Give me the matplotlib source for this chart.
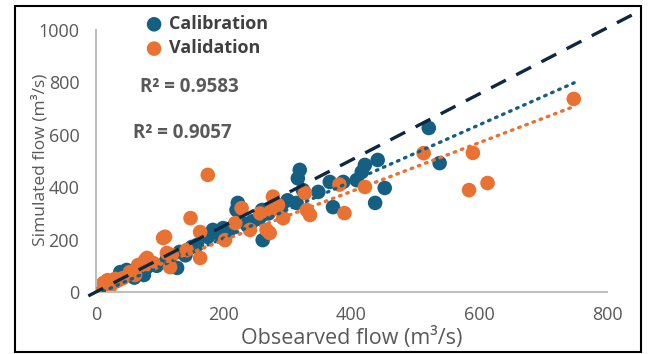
import numpy as np
import matplotlib
matplotlib.use("Agg")
import matplotlib.pyplot as plt
from matplotlib.patches import Rectangle

plt.rcParams['font.family'] = ['Open Sans', 'DejaVu Sans']

calib_obs = [5, 8, 12, 15, 20, 25, 30, 38, 42, 48, 55, 60, 69, 75, 80, 95, 110, 127,
             131, 140, 150, 158, 175, 183, 190, 199, 210, 220, 222, 235, 245, 255, 260,
             261, 270, 290, 300, 314, 316, 319, 324, 348, 366, 371, 387, 408, 416, 421,
             437, 441, 452, 521, 538]
calib_sim = [10, 20, 15, 25, 30, 35, 40, 76, 60, 84, 70, 55, 76, 65, 95, 100, 120, 92,
             153, 140, 172, 179, 210, 237, 225, 244, 240, 313, 340, 260, 270, 280, 313,
             198, 300, 330, 350, 340, 434, 466, 389, 382, 420, 324, 420, 427, 458, 485,
             340, 504, 397, 626, 492]

valid_obs = [5, 8, 10, 12, 15, 18, 22, 27, 30, 35, 42, 53, 61, 66, 77, 77, 80, 90,
             105, 108, 111, 116, 119, 142, 148, 163, 163, 175, 202, 218, 228, 241, 257,
             267, 272, 275, 277, 285, 293, 327, 330, 335, 381, 389, 421, 513, 584, 590,
             613, 748]
valid_sim = [8, 25, 15, 35, 30, 45, 20, 40, 50, 45, 53, 76, 65, 103, 103, 122, 130, 110,
             206, 211, 149, 95, 141, 160, 282, 130, 229, 447, 198, 263, 320, 237, 300,
             237, 225, 313, 364, 332, 282, 378, 313, 294, 410, 301, 401, 530, 389, 531,
             416, 737]

# linear trendlines (slope, intercept) and their r-squared labels
calib_fit = (1.08, -10)
valid_fit = (0.93, 12)
fit_x = [0, 750]
calib_r2 = 0.9583
valid_r2 = 0.9057

# dashed reference line
ref_x = [-12, 850]
ref_y = [-15, 1071]

BLUE = '#156082'
ORANGE = '#E97132'
NAVY = '#0E2841'
GRAY = '#595959'

fig = plt.figure(figsize=(6.48, 3.54), dpi=100)
ax = fig.add_axes([96 / 648, 1 - 292 / 354, 511 / 648, 262 / 354])

ax.scatter(calib_obs, calib_sim, s=110, color=BLUE, zorder=2, label='Calibration',
           edgecolors='none')
ax.scatter(valid_obs, valid_sim, s=110, color=ORANGE, zorder=2.1, label='Validation',
           edgecolors='none')

fx = np.array(fit_x)
ax.plot(fx, calib_fit[0] * fx + calib_fit[1], color=BLUE, lw=2.4,
        linestyle=(0, (0.5, 1.8)), dash_capstyle='round', zorder=3)
ax.plot(fx, valid_fit[0] * fx + valid_fit[1], color=ORANGE, lw=2.4,
        linestyle=(0, (0.5, 1.8)), dash_capstyle='round', zorder=3)
ax.plot(ref_x, ref_y, color=NAVY, lw=2.4, linestyle=(0, (5, 3.5)), zorder=4,
        clip_on=False)

ax.set_xlim(0, 800)
ax.set_ylim(0, 1000)
ax.set_xticks([0, 200, 400, 600, 800])
ax.set_yticks([0, 200, 400, 600, 800, 1000])
ax.tick_params(length=0, labelsize=13, labelcolor=GRAY)
ax.tick_params(axis='y', pad=12)
ax.tick_params(axis='x', pad=10)
for s in ['top', 'right']:
    ax.spines[s].set_visible(False)
for s in ['left', 'bottom']:
    ax.spines[s].set_color('#BFBFBF')
    ax.spines[s].set_linewidth(1.5)

fig.text(352 / 648, 1 - 338 / 354, 'Obsearved flow (m³/s)', fontsize=15.5, color=GRAY,
         ha='center', va='center')
fig.text(40 / 648, 1 - 160 / 354, 'Simulated flow (m³/s)', rotation=90, fontsize=12.5,
         color=GRAY, ha='center', va='center')

fig.text(140 / 648, 1 - 87 / 354, f'R² = {calib_r2}', fontsize=13.5, fontweight='bold',
         color=GRAY, va='center')
fig.text(133 / 648, 1 - 133 / 354, f'R² = {valid_r2}', fontsize=13.5, fontweight='bold',
         color=GRAY, va='center')

leg = fig.legend(loc='upper left', bbox_to_anchor=(127 / 648, 1 - 6 / 354), frameon=False,
                 prop={'weight': 'bold', 'size': 13}, handletextpad=-0.2,
                 labelspacing=0.35, markerscale=1.0, borderpad=0)
for t in leg.get_texts():
    t.set_color('#404040')

fig.patches.append(Rectangle((15 / 648, 2 / 354), 626 / 648, 346 / 354,
                             transform=fig.transFigure, fill=False,
                             edgecolor='black', lw=1.5))

fig.savefig('out.png', dpi=100)
